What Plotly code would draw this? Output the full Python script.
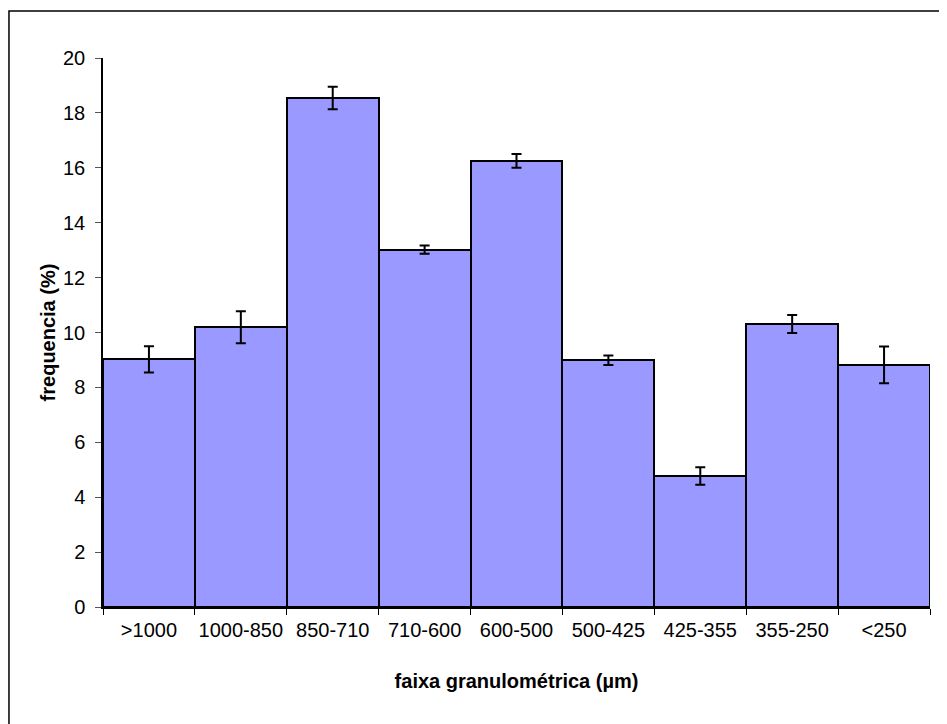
import plotly.graph_objects as go

categories = [">1000", "1000-850", "850-710", "710-600", "600-500",
              "500-425", "425-355", "355-250", "<250"]
frequencia = [9.02, 10.19, 18.54, 13.02, 16.25, 8.99, 4.77, 10.31, 8.82]
erro = [0.48, 0.58, 0.41, 0.15, 0.25, 0.17, 0.32, 0.33, 0.67]

FONT = "Liberation Sans, Arial, sans-serif"

fig = go.Figure(go.Bar(
    x=categories, y=frequencia,
    marker=dict(color="#9999FF", line=dict(color="black", width=2)),
    error_y=dict(type="data", array=erro, visible=True,
                 color="black", thickness=2, width=5),
))

fig.update_layout(
    width=939, height=716,
    margin=dict(l=95, r=17, t=50, b=117),
    paper_bgcolor="white", plot_bgcolor="white",
    bargap=0, showlegend=False,
    font=dict(family=FONT, color="black", size=20),
    shapes=[dict(type="rect", xref="paper", yref="paper",
                 x0=-0.1137, x1=1.05, y0=-0.4, y1=1.0856,
                 line=dict(color="black", width=1.5), fillcolor="rgba(0,0,0,0)",
                 layer="below")],
)

fig.update_xaxes(
    type="category", showline=True, linecolor="black", linewidth=1.5,
    ticks="outside", tickson="boundaries", ticklen=6, tickcolor="black",
    ticklabelstandoff=4, tickangle=0, automargin=False,
    tickfont=dict(size=20, family=FONT),
    showgrid=False, zeroline=False,
    title=dict(text="<b>faixa granulométrica (µm)</b>", standoff=34,
               font=dict(size=20, family=FONT)),
)
fig.update_yaxes(
    range=[0, 20], dtick=2, showline=True, linecolor="black", linewidth=1.5,
    ticks="outside", ticklen=6, tickcolor="#555",
    ticklabelstandoff=6, automargin=False,
    tickfont=dict(size=20, family=FONT),
    showgrid=False, zeroline=False,
    title=dict(text="<b>frequencia (%)</b>", standoff=2,
               font=dict(size=20, family=FONT)),
)

fig.write_html("out.html")
